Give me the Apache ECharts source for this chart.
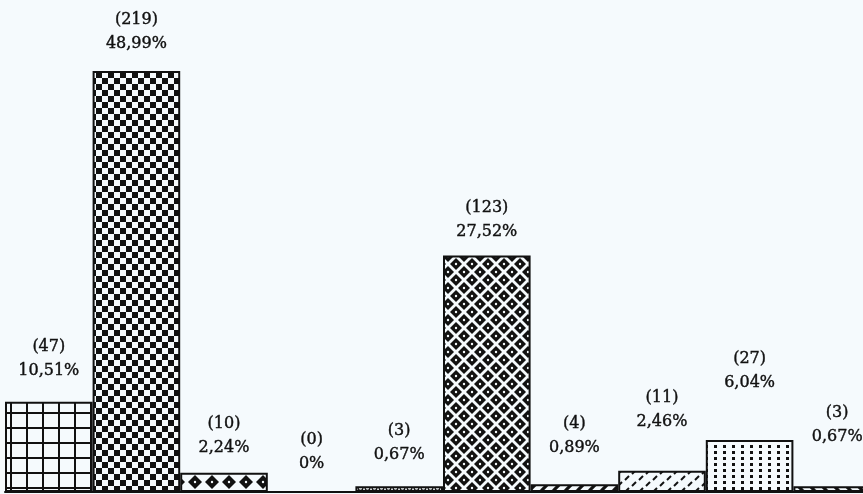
<!DOCTYPE html>
<html><head><meta charset="utf-8">
<script src="https://cdn.jsdelivr.net/npm/echarts@6.0.0/dist/echarts.min.js"></script>
<style>html,body{margin:0;padding:0;background:#f5fafd;}#c{width:863px;height:494px;}</style>
</head><body><div id="c"></div>
<script>
const categories = ['A','B','C','D','E','F','G','H','I','J'];
const counts = [47, 219, 10, 0, 3, 123, 4, 11, 27, 3];
const percentLabels = ['10,51%','48,99%','2,24%','0%','0,67%','27,52%','0,89%','2,46%','6,04%','0,67%'];
// label lift above each bar (style)
const labelDistances = [19, 15, 13, 15, 19, 12, 24, 37, 45, 37];

const BG = '#f5fafd', INK = '#111111';
function tile(w, h, draw) {
  const c = document.createElement('canvas'); c.width = w; c.height = h;
  const g = c.getContext('2d'); g.fillStyle = BG; g.fillRect(0,0,w,h);
  g.fillStyle = INK; g.strokeStyle = INK; draw(g, w, h); return c;
}
function wrap(w, h, f) { for (const dx of [-w,0,w]) for (const dy of [-h,0,h]) f(dx,dy); }
function diamond(g, cx, cy, r, dot) {
  g.fillStyle = INK; g.beginPath(); g.moveTo(cx,cy-r); g.lineTo(cx+r,cy); g.lineTo(cx,cy+r); g.lineTo(cx-r,cy); g.closePath(); g.fill();
  if (dot) { g.fillStyle = BG; g.beginPath(); g.arc(cx,cy,dot,0,7); g.fill(); g.fillStyle = INK; }
}
const patterns = [
  // grid
  tile(16, 15, (g,w,h)=>{ g.fillRect(10,0,2,h); g.fillRect(0,7,w,2); }),
  // checker
  tile(12, 12, (g)=>{ g.fillRect(0,0,6,6); g.fillRect(6,6,6,6); }),
  // row of diamonds
  tile(17, 20, (g,w,h)=>{ wrap(w,h,(dx,dy)=>diamond(g, 8+dx, 2+dy, 7, 1.2)); }),
  // zero bar
  tile(8, 8, ()=>{}),
  // scallops
  tile(7, 6, (g,w,h)=>{ g.lineWidth=1.3; wrap(w,h,(dx,dy)=>{ g.beginPath(); g.arc(3.5+dx,2+dy,2.4,0,7); g.stroke(); }); }),
  // argyle diamonds
  tile(16, 16, (g,w,h)=>{ wrap(w,h,(dx,dy)=>{ diamond(g, 8+dx, 8+dy, 6, 1.2); diamond(g, dx, dy, 6, 1.2); }); }),
  // forward hatch
  tile(12, 12, (g,w,h)=>{ g.lineWidth=3.2; wrap(w,h,(dx,dy)=>{ g.beginPath(); g.moveTo(dx,h+dy); g.lineTo(w+dx,dy); g.stroke(); }); }),
  // dashes
  tile(14, 12, (g,w,h)=>{ g.lineWidth=2; wrap(w,h,(dx,dy)=>{ g.beginPath(); g.moveTo(2+dx,6+dy); g.lineTo(6+dx,2+dy); g.stroke(); g.beginPath(); g.moveTo(9+dx,12+dy); g.lineTo(13+dx,8+dy); g.stroke(); }); }),
  // dots
  tile(9, 6, (g)=>{ g.fillRect(3,1,3,3); }),
  // back hatch
  tile(12, 12, (g,w,h)=>{ g.lineWidth=3.2; wrap(w,h,(dx,dy)=>{ g.beginPath(); g.moveTo(dx,dy); g.lineTo(w+dx,h+dy); g.stroke(); }); })
];

const chart = echarts.init(document.getElementById('c'), null, {renderer:'canvas'});
chart.setOption({
  backgroundColor: BG,
  animation: false,
  grid: {left: 5, width: 876, top: 0, bottom: 2, containLabel: false, outerBoundsMode: 'none'},
  xAxis: {type:'category', data: categories, axisLine:{show:true, lineStyle:{color:INK, width:2}}, axisTick:{show:false}, axisLabel:{show:false}, splitLine:{show:false}},
  yAxis: {type:'value', min:0, max:256, show:false, splitLine:{show:false}},
  series: [{
    type:'bar', barWidth:'100%', barCategoryGap:0,
    data: counts.map((v,i)=>({
      value: v,
      itemStyle: {color: {image: patterns[i], repeat:'repeat'}, borderColor: INK, borderWidth: 2},
      label: {distance: labelDistances[i]}
    })),
    label: {
      show:true, position:'top', color:'#111', fontFamily:'DejaVu Serif', fontSize:16, lineHeight:24, align:'center',
      textBorderColor:'#111', textBorderWidth:0.4,
      formatter: p => '(' + counts[p.dataIndex] + ')\n' + percentLabels[p.dataIndex]
    }
  }]
});
</script></body></html>
